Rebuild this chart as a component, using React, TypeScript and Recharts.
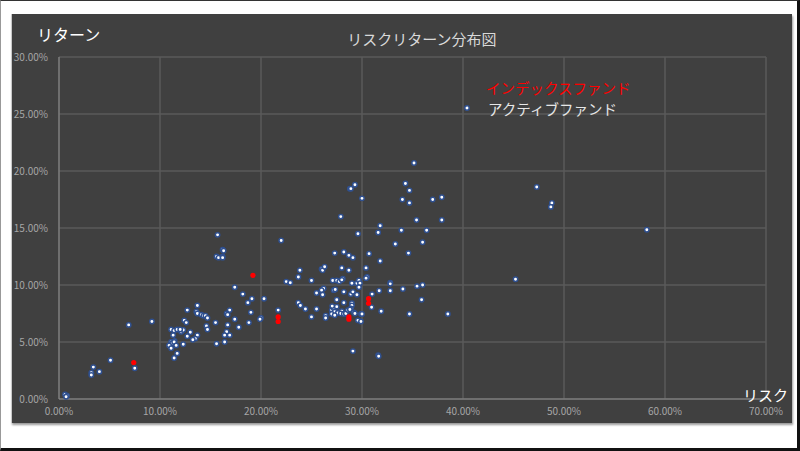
import { ScatterChart, Scatter, XAxis, YAxis, CartesianGrid } from 'recharts';

// [リスク %, リターン %]
const activeFunds: [number, number][] = [
  [0.6, 0.4], [0.8, 0.3], [0.7, 0.2],
  [3.2, 2.3], [3.2, 2.1], [3.4, 2.8], [4.0, 2.4], [5.1, 3.4], [6.9, 6.5], [7.5, 2.7], [9.2, 6.8],
  [15.7, 14.4], [16.2, 13.1], [16.3, 13.0], [15.6, 12.5], [15.8, 12.4], [16.2, 12.5], [16.2, 12.4],
  [22.0, 13.9], [22.5, 10.3], [22.9, 10.2], [17.4, 9.8], [18.2, 9.2], [18.7, 8.45], [19.1, 8.8],
  [20.3, 8.8], [19.0, 7.6], [18.8, 6.7], [20.0, 7.1], [19.9, 7.0], [21.7, 7.8],
  [17.8, 6.3], [17.4, 7.0], [16.7, 6.5], [16.9, 7.8], [16.6, 7.5], [16.7, 7.4], [16.6, 5.9],
  [16.4, 5.6], [16.9, 5.6], [16.4, 5.0], [15.6, 4.85], [15.5, 6.7],
  [13.7, 8.2], [12.7, 7.8], [13.6, 7.65], [13.7, 7.5], [14.1, 7.4], [14.3, 7.3], [14.5, 7.3],
  [14.7, 7.1], [12.4, 6.9], [12.6, 6.7], [14.6, 6.4], [14.7, 6.1],
  [11.1, 6.1], [11.4, 6.0], [11.7, 6.1], [12.1, 5.9], [12.3, 6.05], [12.0, 6.1], [11.3, 5.6],
  [13.0, 5.85], [12.7, 5.5], [13.7, 5.6], [13.5, 5.3], [13.25, 5.2],
  [11.1, 5.0], [11.45, 5.1], [11.2, 4.9], [11.4, 5.0], [10.9, 4.7], [11.6, 4.7], [11.1, 4.45],
  [12.3, 4.8], [11.7, 4.0], [11.4, 3.6],
  [35.15, 20.7], [34.3, 18.9], [34.7, 18.3], [34.0, 17.5], [34.7, 17.2], [37.0, 17.5], [37.9, 17.7],
  [37.9, 15.7], [35.4, 15.7], [36.4, 14.8], [36.0, 13.75], [33.9, 14.8], [33.3, 13.6], [34.6, 12.8],
  [31.8, 15.2], [31.6, 14.6], [29.3, 18.8], [28.8, 18.45], [28.9, 18.45], [30.0, 17.6], [27.9, 16.0],
  [29.6, 14.5], [31.8, 12.1], [30.7, 12.75], [27.3, 12.8], [28.2, 12.9], [28.7, 12.6], [29.1, 12.4],
  [30.4, 11.5], [26.0, 11.4], [26.1, 11.3], [26.3, 11.6], [23.85, 11.3], [23.7, 10.7], [25.0, 10.4],
  [28.0, 11.5], [28.7, 11.3], [30.5, 10.7], [30.4, 10.6],
  [27.1, 10.4], [27.5, 10.4], [27.75, 10.3], [28.1, 10.55], [28.0, 10.45], [29.0, 10.15],
  [29.5, 10.15], [29.7, 10.4], [29.8, 10.15], [29.7, 9.8],
  [27.2, 9.55], [27.35, 9.6], [26.2, 9.7], [26.0, 9.55], [28.2, 9.4], [25.5, 9.3], [26.1, 9.15],
  [28.9, 9.2], [29.1, 9.4], [29.5, 9.15],
  [32.8, 10.2], [32.8, 10.1], [31.7, 9.5], [32.8, 9.5], [34.05, 9.65], [35.45, 9.9], [36.0, 10.0],
  [31.0, 9.2], [30.95, 8.05], [31.9, 7.7], [34.7, 7.45], [35.9, 8.7], [38.5, 7.45],
  [23.7, 8.45], [23.9, 8.2], [24.4, 7.9], [25.5, 7.9], [25.0, 7.2],
  [27.5, 8.7], [28.2, 8.45], [29.0, 8.4], [29.0, 8.2], [28.9, 7.95],
  [27.0, 7.8], [27.2, 7.95], [27.5, 8.1], [27.3, 7.65], [27.7, 7.6], [27.0, 7.45], [26.4, 7.3],
  [26.4, 7.1], [27.05, 8.15], [28.0, 7.7], [27.6, 7.55], [27.3, 7.35],
  [27.9, 7.5], [28.2, 7.45], [28.4, 7.5], [28.6, 7.8], [28.8, 7.85],
  [29.2, 7.6], [29.3, 7.5], [29.9, 7.45], [30.0, 7.45], [29.6, 6.9], [29.9, 6.8],
  [29.1, 4.2], [31.6, 3.85], [31.65, 3.75],
  [47.3, 18.6], [48.8, 17.2], [48.7, 16.85], [58.2, 14.85], [45.2, 10.5],
];

const indexFunds: [number, number][] = [
  [7.4, 3.2], [19.2, 10.85], [21.7, 7.2], [21.7, 6.8], [28.7, 7.2], [28.7, 7.0], [30.65, 8.8], [30.65, 8.4],
];

const xTicks = [0, 10, 20, 30, 40, 50, 60, 70];
const yTicks = [0, 5, 10, 15, 20, 25, 30];

const seriesNames = ['インデックスファンド', 'アクティブファンド'];

const activeData = activeFunds.map(([risk, ret]) => ({ risk, ret }));
const indexData = indexFunds.map(([risk, ret]) => ({ risk, ret }));

const jp = '"Noto Sans CJK JP", "Noto Sans", sans-serif';
const pct = (v: number) => `${v.toFixed(2)}%`;

const ActiveDot = (p: any) => (
  <circle cx={p.cx} cy={p.cy} r={2.2} fill="#ffffff" stroke="#2f5090" strokeWidth={1.5} />
);
const IndexDot = (p: any) => <circle cx={p.cx} cy={p.cy} r={2.6} fill="#ff0000" />;

export default function App() {
  return (
    <div
      style={{
        position: 'fixed',
        left: 0,
        top: 0,
        width: 800,
        height: 451,
        boxSizing: 'border-box',
        background: '#ffffff',
        borderTop: '1px solid #333',
        borderLeft: '1px solid #999',
        borderRight: '3px solid #111',
        borderBottom: '3px solid #111',
      }}
    >
      <div
        style={{
          position: 'absolute',
          left: 10,
          top: 13,
          width: 780,
          height: 409,
          background: '#404040',
          borderLeft: '1px solid #c8c8c8',
          boxShadow: '1px 2px 2px rgba(0,0,0,0.4)',
        }}
      >
        <ScatterChart width={780} height={409} margin={{ top: 43, right: 26, bottom: 0, left: 0 }}>
          <CartesianGrid stroke="#5a5a5a" strokeWidth={1.5} />
          <XAxis
            type="number"
            dataKey="risk"
            domain={[0, 70]}
            ticks={xTicks}
            tickFormatter={pct}
            height={24}
            tickSize={0}
            tickMargin={9}
            stroke="#8c8c8c"
            tick={{ fill: '#a6a6a6', fontSize: 10, fontFamily: jp }}
          />
          <YAxis
            type="number"
            dataKey="ret"
            domain={[0, 30]}
            ticks={yTicks}
            tickFormatter={pct}
            width={47}
            tickSize={0}
            tickMargin={11}
            stroke="#8c8c8c"
            tick={{ fill: '#a6a6a6', fontSize: 10, fontFamily: jp }}
          />
          <Scatter name={seriesNames[1]} data={activeData} shape={ActiveDot} isAnimationActive={false} />
          <Scatter name={seriesNames[0]} data={indexData} shape={IndexDot} isAnimationActive={false} />
        </ScatterChart>
        <div
          style={{
            position: 'absolute',
            left: 451,
            top: 63,
            fontFamily: jp,
            fontSize: 14.5,
            lineHeight: '21px',
            whiteSpace: 'nowrap',
          }}
        >
          <div style={{ color: '#ff0000', paddingLeft: 23 }}>{seriesNames[0]}</div>
          <div style={{ color: '#e6e6e6', paddingLeft: 25, position: 'relative' }}>
            <svg width={8} height={8} style={{ position: 'absolute', left: 0, top: 6 }}>
              <circle cx={4} cy={4} r={2.2} fill="#ffffff" stroke="#2f5090" strokeWidth={1.5} />
            </svg>
            {seriesNames[1]}
          </div>
        </div>
        <div
          style={{
            position: 'absolute',
            left: 410,
            top: 24,
            transform: 'translate(-50%, -50%)',
            whiteSpace: 'nowrap',
            color: '#d9d9d9',
            fontFamily: jp,
            fontSize: 15,
          }}
        >
          リスクリターン分布図
        </div>
        <div
          style={{
            position: 'absolute',
            left: 25,
            top: 20,
            transform: 'translateY(-50%)',
            whiteSpace: 'nowrap',
            color: '#ffffff',
            fontFamily: jp,
            fontSize: 16,
          }}
        >
          リターン
        </div>
        <div
          style={{
            position: 'absolute',
            left: 731,
            top: 380,
            transform: 'translateY(-50%)',
            whiteSpace: 'nowrap',
            color: '#ffffff',
            fontFamily: jp,
            fontSize: 15,
          }}
        >
          リスク
        </div>
      </div>
    </div>
  );
}
